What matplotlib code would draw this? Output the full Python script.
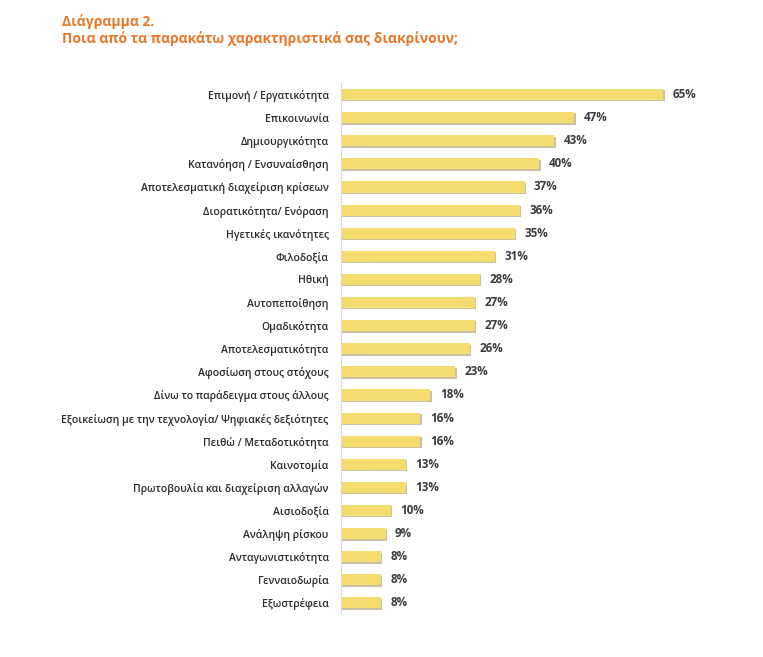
#!/usr/bin/env python3
import numpy as np
import matplotlib
matplotlib.use("Agg")
import matplotlib.pyplot as plt
import matplotlib.patheffects as pe

labels = [
    "Επιμονή / Εργατικότητα",
    "Επικοινωνία",
    "Δημιουργικότητα",
    "Κατανόηση / Ενσυναίσθηση",
    "Αποτελεσματική διαχείριση κρίσεων",
    "Διορατικότητα/ Ενόραση",
    "Ηγετικές ικανότητες",
    "Φιλοδοξία",
    "Ηθική",
    "Αυτοπεποίθηση",
    "Ομαδικότητα",
    "Αποτελεσματικότητα",
    "Αφοσίωση στους στόχους",
    "Δίνω το παράδειγμα στους άλλους",
    "Εξοικείωση με την τεχνολογία/ Ψηφιακές δεξιότητες",
    "Πειθώ / Μεταδοτικότητα",
    "Καινοτομία",
    "Πρωτοβουλία και διαχείριση αλλαγών",
    "Αισιοδοξία",
    "Ανάληψη ρίσκου",
    "Ανταγωνιστικότητα",
    "Γενναιοδωρία",
    "Εξωστρέφεια",
]
values = [65, 47, 43, 40, 37, 36, 35, 31, 28, 27, 27, 26, 23, 18, 16, 16,
          13, 13, 10, 9, 8, 8, 8]

plt.rcParams['font.family'] = ['Open Sans', 'DejaVu Sans']

fig = plt.figure(figsize=(7.63, 6.57), dpi=100)
ax = fig.add_axes([0.447, 0.0647, 0.52, 0.809])

y = np.arange(len(labels))
shadow = [pe.SimplePatchShadow(offset=(1.0, -1.0), shadow_rgbFace="#a89868", alpha=0.6),
          pe.Normal()]
bars = ax.barh(y, values, height=0.48, color="#f5dc6e", zorder=2)
for b in bars:
    b.set_path_effects(shadow)

for yi, v in zip(y, values):
    ax.text(v + 1.9, yi, f"{v}%", va="center", ha="left", fontsize=8.4,
            fontweight="bold", color="#3a3a3a")

ax.set_yticks(y)
ax.set_yticklabels(labels, fontsize=7.5, color="#2a2a2a", fontweight="semibold")
ax.tick_params(axis="y", length=0, pad=9)
ax.set_xticks([])
ax.set_xlim(0, 80)
ax.set_ylim(len(labels) - 0.5, -0.5)
for s in ["top", "right", "bottom"]:
    ax.spines[s].set_visible(False)
ax.spines["left"].set_color("#d9d9d9")
ax.spines["left"].set_linewidth(0.8)

fig.text(0.081, 0.978, "Διάγραμμα 2.", color="#e8782a", fontsize=10,
         fontweight="bold", va="top")
fig.text(0.081, 0.953, "Ποια από τα παρακάτω χαρακτηριστικά σας διακρίνουν;",
         color="#e8782a", fontsize=10, fontweight="bold", va="top")

fig.savefig("out.png", dpi=100)
print("DONE")
